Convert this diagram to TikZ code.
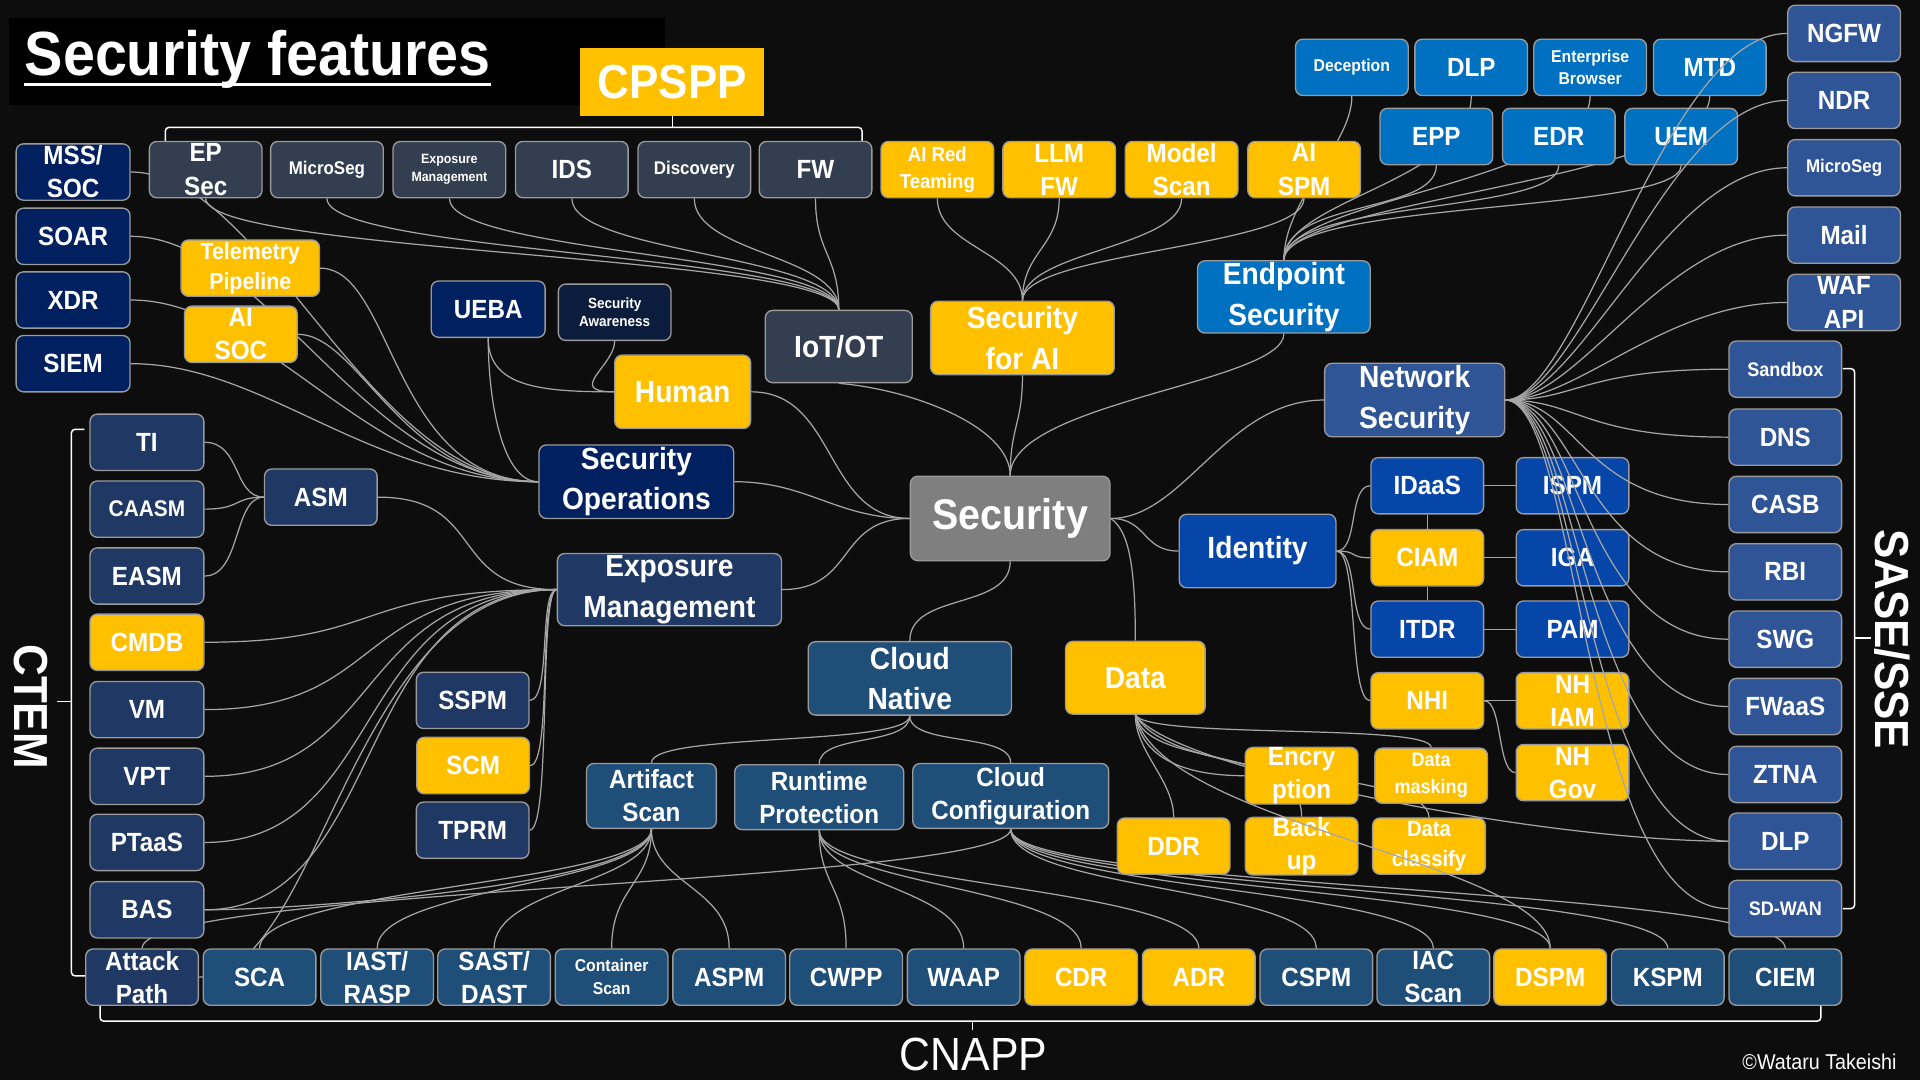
\documentclass[tikz,border=0pt]{standalone}
\usepackage{fontspec}
\setmainfont{Liberation Sans}[FakeStretch=0.92]

\definecolor{bgblack}{HTML}{0D0D0D}
\definecolor{edgegray}{HTML}{A6A6A6}
\definecolor{boxgray}{HTML}{9A9A9A}
\definecolor{slate}{HTML}{333F50}
\definecolor{aiyellow}{HTML}{FFC000}
\definecolor{epblue}{HTML}{0070C0}
\definecolor{netblue}{HTML}{2F5597}
\definecolor{idblue}{HTML}{0646A8}
\definecolor{socnavy}{HTML}{002060}
\definecolor{darknavy}{HTML}{0C1C3C}
\definecolor{ctemblue}{HTML}{1F3864}
\definecolor{cloudblue}{HTML}{1F4E79}
\definecolor{hubgray}{HTML}{7F7F7F}

\pgfdeclarelayer{background}
\pgfsetlayers{background,main}

\newcommand{\sized}[2]{\fontsize{#1}{#2}\selectfont\bfseries}

\tikzset{
  box/.style={draw=boxgray, line width=1.1pt, rounded corners=6pt, text=white, align=center,
    inner sep=0pt, minimum width=92pt, minimum height=46pt, font=\sized{21.5}{27}},
  groupbox/.style={font=\sized{25}{33}},
  cpsppbox/.style={box, fill=slate},
  aibox/.style={box, fill=aiyellow},
  epbox/.style={box, fill=epblue},
  netbox/.style={box, fill=netblue},
  idbox/.style={box, fill=idblue},
  socbox/.style={box, fill=socnavy},
  ctembox/.style={box, fill=ctemblue},
  cloudbox/.style={box, fill=cloudblue},
  link/.style={draw=edgegray, line width=1pt},
  bracket/.style={draw=white, line width=1.2pt, rounded corners=3pt},
  sidelabel/.style={text=white, inner sep=0pt, font=\sized{39}{39}}
}

\begin{document}
\begin{tikzpicture}[x=1pt,y=1pt]
\useasboundingbox (0,0) rectangle (1568,-882);
\begin{pgfonlayer}{background}
  \fill[bgblack] (0,0) rectangle (1568,-882);
\end{pgfonlayer}

% title and group labels
\fill[black] (7,-15) rectangle (543,-86);
\node[anchor=base west, text=white, inner sep=0pt, font=\sized{51}{51}] (title) at (20,-62) {Security features};
\draw[white, line width=2.2pt] ([yshift=-7pt]title.base west) -- ([yshift=-7pt]title.base east);
\node[fill=aiyellow, minimum width=150pt, minimum height=55pt, inner sep=0pt, text=white, font=\sized{39}{39}] (cpspp) at (549,-67) {CPSPP};

\node[sidelabel, rotate=-90] (ctem) at (25,-577) {CTEM};
\node[sidelabel, rotate=-90] (sase) at (1545,-522) {SASE/SSE};
\node[sidelabel, font=\fontsize{38}{38}\selectfont] (cnapp) at (795,-861) {CNAPP};
\node[anchor=east, text=white, inner sep=0pt, font=\fontsize{17.5}{17.5}\selectfont] (credit) at (1549,-867) {©Wataru Takeishi};

% brackets
\draw[bracket] (135,-115) |- (549,-104) -| (704,-115);
\draw[bracket] (549,-104) -- (cpspp.south);
\draw[bracket] (69,-350.6) -| (58.3,-797) -- (70,-797);
\draw[bracket] (58.3,-573) -- (46.7,-573);
\draw[bracket] (1505,-301) -| (1514.6,-742) -- (1505,-742);
\draw[bracket] (1514.6,-521) -- (1528,-521);
\draw[bracket] (81.7,-821) |- (1487,-834) -- (1487,-821);
\draw[bracket] (794.4,-834) -- (794.4,-841);

% CPSPP row
\node[cpsppbox] (epsec) at (168,-138.5) {EP\\Sec};
\node[cpsppbox, font=\sized{15}{19}] (microsegc) at (267,-138.5) {MicroSeg};
\node[cpsppbox, font=\sized{11}{14.5}] (exposure) at (367,-138.5) {Exposure\\Management};
\node[cpsppbox] (ids) at (467,-138.5) {IDS};
\node[cpsppbox, font=\sized{15}{19}] (discovery) at (567,-138.5) {Discovery};
\node[cpsppbox] (fw) at (666,-138.5) {FW};

% AI row
\node[aibox, font=\sized{16.5}{22}] (redteam) at (765.5,-138.5) {AI Red\\Teaming};
\node[aibox] (llmfw) at (865,-138.5) {LLM\\FW};
\node[aibox] (modelscan) at (965,-138.5) {Model\\Scan};
\node[aibox] (aispm) at (1065,-138.5) {AI\\SPM};

% endpoint
\node[epbox, font=\sized{14}{18}] (deception) at (1104,-55) {Deception};
\node[epbox] (dlpep) at (1201.5,-55) {DLP};
\node[epbox, font=\sized{14}{18}] (browser) at (1298.6,-55) {Enterprise\\Browser};
\node[epbox] (mtd) at (1396.3,-55) {MTD};
\node[epbox] (epp) at (1173,-111.5) {EPP};
\node[epbox] (edr) at (1273,-111.5) {EDR};
\node[epbox] (uem) at (1373,-111.5) {UEM};

% network
\node[netbox] (ngfw) at (1506,-27.3) {NGFW};
\node[netbox] (ndr) at (1506,-82) {NDR};
\node[netbox, font=\sized{15}{19}] (microsegn) at (1506,-137) {MicroSeg};
\node[netbox] (mail) at (1506,-192) {Mail};
\node[netbox] (waf) at (1506,-247) {WAF\\API};
\node[netbox, font=\sized{16}{20}] (sandbox) at (1458,-301.5) {Sandbox};
\node[netbox] (dns) at (1458,-357) {DNS};
\node[netbox] (casb) at (1458,-412) {CASB};
\node[netbox] (rbi) at (1458,-467) {RBI};
\node[netbox] (swg) at (1458,-522) {SWG};
\node[netbox] (fwaas) at (1458,-577) {FWaaS};
\node[netbox] (ztna) at (1458,-632.5) {ZTNA};
\node[netbox] (dlpsase) at (1458,-687) {DLP};
\node[netbox, font=\sized{16}{20}] (sdwan) at (1458,-742) {SD-WAN};

% security operations side
\node[socbox, minimum width=93pt] (msssoc) at (59.7,-140.5) {MSS/\\SOC};
\node[socbox, minimum width=93pt] (soar) at (59.7,-193) {SOAR};
\node[socbox, minimum width=93pt] (xdr) at (59.7,-245) {XDR};
\node[socbox, minimum width=93pt] (siem) at (59.7,-297) {SIEM};
\node[aibox, minimum width=113pt, font=\sized{19}{24.5}] (telemetry) at (204.4,-219) {Telemetry\\Pipeline};
\node[aibox] (aisoc) at (196.7,-273) {AI\\SOC};
\node[socbox, minimum width=93pt] (ueba) at (398.7,-252.5) {UEBA};
\node[box, fill=darknavy, font=\sized{12}{15}] (awareness) at (502,-255) {Security\\Awareness};

% main groups
\node[aibox, groupbox, minimum width=111pt, minimum height=60pt] (human) at (557.5,-320) {Human};
\node[cpsppbox, groupbox, minimum width=120pt, minimum height=59pt] (iot) at (685,-283) {IoT/OT};
\node[aibox, groupbox, minimum width=150pt, minimum height=60pt] (secai) at (835,-276) {Security\\for AI};
\node[epbox, groupbox, minimum width=141pt, minimum height=59pt] (endpoint) at (1048.5,-242.5) {Endpoint\\Security};
\node[netbox, groupbox, minimum width=147pt, minimum height=60pt] (netsec) at (1155.3,-326.7) {Network\\Security};
\node[socbox, groupbox, minimum width=159pt, minimum height=60pt] (secops) at (519.7,-393.4) {Security\\Operations};
\node[ctembox, groupbox, minimum width=183pt, minimum height=59pt] (expm) at (546.7,-481.5) {Exposure\\Management};
\node[ctembox] (asm) at (262,-406) {ASM};
\node[box, fill=hubgray, minimum width=163pt, minimum height=69pt, font=\sized{35}{35}] (security) at (825,-423.4) {Security};
\node[idbox, groupbox, minimum width=128pt, minimum height=60pt] (identity) at (1027,-450) {Identity};
\node[aibox, groupbox, minimum width=114pt, minimum height=59.5pt] (data) at (927.2,-553.5) {Data};
\node[cloudbox, groupbox, minimum width=166pt, minimum height=60pt] (cloudnative) at (743,-554) {Cloud\\Native};

% CTEM column
\node[ctembox, minimum width=93pt] (ti) at (120,-361.2) {TI};
\node[ctembox, minimum width=93pt, font=\sized{18.5}{24}] (caasm) at (120,-415.8) {CAASM};
\node[ctembox, minimum width=93pt] (easm) at (120,-470.4) {EASM};
\node[aibox, minimum width=93pt] (cmdb) at (120,-524.5) {CMDB};
\node[ctembox, minimum width=93pt] (vm) at (120,-579.5) {VM};
\node[ctembox, minimum width=93pt] (vpt) at (120,-634) {VPT};
\node[ctembox, minimum width=93pt] (ptaas) at (120,-688) {PTaaS};
\node[ctembox, minimum width=93pt] (bas) at (120,-743) {BAS};
\node[ctembox] (sspm) at (386,-572) {SSPM};
\node[aibox] (scm) at (386.4,-625.2) {SCM};
\node[ctembox] (tprm) at (386,-678) {TPRM};

% identity
\node[idbox] (idaas) at (1165.6,-396.7) {IDaaS};
\node[idbox] (ispm) at (1284.2,-396.7) {ISPM};
\node[aibox] (ciam) at (1165.6,-455.5) {CIAM};
\node[idbox] (iga) at (1284.2,-455.5) {IGA};
\node[idbox] (itdr) at (1165.6,-513.8) {ITDR};
\node[idbox] (pam) at (1284.2,-513.8) {PAM};
\node[aibox] (nhi) at (1165.6,-572.3) {NHI};
\node[aibox] (nhiam) at (1284.2,-572.3) {NH\\IAM};
\node[aibox] (nhgov) at (1284.2,-631) {NH\\Gov};

% data
\node[aibox, minimum height=45pt] (encryption) at (1063,-633.5) {Encry\\ption};
\node[aibox, minimum height=45pt, font=\sized{16}{22}] (masking) at (1168.8,-633.5) {Data\\masking};
\node[aibox] (backup) at (1063,-691) {Back\\up};
\node[aibox, font=\sized{18}{24.5}] (classify) at (1167,-691) {Data\\classify};
\node[aibox] (ddr) at (958.5,-691) {DDR};

% cloud native
\node[cloudbox, minimum width=106pt, minimum height=53pt] (artifact) at (532,-650) {Artifact\\Scan};
\node[cloudbox, minimum width=138pt, minimum height=53pt] (runtime) at (669,-651) {Runtime\\Protection};
\node[cloudbox, minimum width=160pt, minimum height=53pt] (cloudcfg) at (825.4,-650) {Cloud\\Configuration};

% CNAPP row
\node[ctembox] (attack) at (116,-798) {Attack\\Path};
\node[cloudbox] (sca) at (212,-798) {SCA};
\node[cloudbox] (iast) at (308,-798) {IAST/\\RASP};
\node[cloudbox] (sast) at (403.5,-798) {SAST/\\DAST};
\node[cloudbox, font=\sized{14}{19}] (container) at (499.5,-798) {Container\\Scan};
\node[cloudbox] (aspm) at (595.5,-798) {ASPM};
\node[cloudbox] (cwpp) at (691,-798) {CWPP};
\node[cloudbox] (waap) at (787,-798) {WAAP};
\node[aibox] (cdr) at (883,-798) {CDR};
\node[aibox] (adr) at (979,-798) {ADR};
\node[cloudbox] (cspm) at (1075,-798) {CSPM};
\node[cloudbox] (iac) at (1170.5,-798) {IAC\\Scan};
\node[aibox] (dspm) at (1266,-798) {DSPM};
\node[cloudbox] (kspm) at (1362,-798) {KSPM};
\node[cloudbox] (ciem) at (1458,-798) {CIEM};

\begin{pgfonlayer}{background}
% hub
\draw[link] (security.north) .. controls +(0,40) and +(0,-40) .. (secai.south);
\draw[link] (security.north) .. controls +(0,40) and +(60,-5) .. (iot.south);
\draw[link] (security.north) .. controls +(0,60) and +(0,-40) .. (endpoint.south);
\draw[link] (security.east) .. controls +(60,0) and +(-80,0) .. (netsec.west);
\draw[link] (security.east) .. controls +(30,0) and +(-30,0) .. (identity.west);
\draw[link] (security.east) .. controls +(15,-10) and +(0,60) .. (data.north);
\draw[link] (security.south) .. controls +(0,-40) and +(0,40) .. (cloudnative.north);
\draw[link] (security.west) .. controls +(-60,0) and +(60,0) .. (expm.east);
\draw[link] (security.west) .. controls +(-60,0) and +(60,0) .. (secops.east);
\draw[link] (security.west) .. controls +(-70,0) and +(70,0) .. (human.east);

% security for AI
\draw[link] (secai.north) .. controls +(0,40) and +(0,-40) .. (redteam.south);
\draw[link] (secai.north) .. controls +(0,40) and +(0,-40) .. (llmfw.south);
\draw[link] (secai.north) .. controls +(0,40) and +(0,-40) .. (modelscan.south);
\draw[link] (secai.north) .. controls +(0,40) and +(0,-40) .. (aispm.south);

% IoT/OT
\draw[link] (iot.north) .. controls +(0,45) and +(0,-45) .. (epsec.south);
\draw[link] (iot.north) .. controls +(0,45) and +(0,-45) .. (microsegc.south);
\draw[link] (iot.north) .. controls +(0,45) and +(0,-45) .. (exposure.south);
\draw[link] (iot.north) .. controls +(0,45) and +(0,-45) .. (ids.south);
\draw[link] (iot.north) .. controls +(0,45) and +(0,-45) .. (discovery.south);
\draw[link] (iot.north) .. controls +(0,45) and +(0,-45) .. (fw.south);

% endpoint
\draw[link] (endpoint.north) .. controls +(0,50) and +(0,-40) .. (deception.south);
\draw[link] (endpoint.north) .. controls +(0,50) and +(0,-70) .. (dlpep.south);
\draw[link] (endpoint.north) .. controls +(0,50) and +(0,-70) .. (browser.south);
\draw[link] (endpoint.north) .. controls +(0,50) and +(0,-70) .. (mtd.south);
\draw[link] (endpoint.north) .. controls +(0,50) and +(0,-40) .. (epp.south);
\draw[link] (endpoint.north) .. controls +(0,50) and +(0,-40) .. (edr.south);
\draw[link] (endpoint.north) .. controls +(0,50) and +(0,-40) .. (uem.south);

% identity
\draw[link] (identity.east) .. controls +(18,0) and +(-18,0) .. (idaas.west);
\draw[link] (identity.east) .. controls +(18,0) and +(-18,0) .. (ciam.west);
\draw[link] (identity.east) .. controls +(18,0) and +(-18,0) .. (itdr.west);
\draw[link] (identity.east) .. controls +(18,0) and +(-18,0) .. (nhi.west);
\draw[link] (idaas.east) -- (ispm.west);
\draw[link] (ciam.east) -- (iga.west);
\draw[link] (itdr.east) -- (pam.west);
\draw[link] (nhi.east) -- (nhiam.west);
\draw[link] (nhi.east) .. controls +(15,0) and +(-15,0) .. (nhgov.west);
\draw[link] (idaas.south) -- (ciam.north);
\draw[link] (ciam.south) -- (itdr.north);

% data
\draw[link] (data.south) .. controls +(0,-30) and +(0,30) .. (ddr.north);
\draw[link] (data.south) .. controls +(5,-35) and +(-50,0) .. (encryption.west);
\draw[link] (data.south) .. controls +(10,-20) and +(0,20) .. (masking.north);
\draw[link] (data.south) .. controls +(10,-45) and +(0,60) .. (backup.north);
\draw[link] (data.south) .. controls +(30,-55) and +(0,40) .. (classify.north);
\draw[link] (data.south) .. controls +(30,-45) and +(-150,0) .. (dlpsase.west);

% cloud native
\draw[link] (cloudnative.south) .. controls +(0,-25) and +(0,25) .. (artifact.north);
\draw[link] (cloudnative.south) .. controls +(0,-25) and +(0,25) .. (runtime.north);
\draw[link] (cloudnative.south) .. controls +(0,-25) and +(0,25) .. (cloudcfg.north);
\draw[link] (artifact.south) .. controls +(0,-45) and +(0,50) .. (sca.north);
\draw[link] (artifact.south) .. controls +(0,-45) and +(0,50) .. (iast.north);
\draw[link] (artifact.south) .. controls +(0,-45) and +(0,50) .. (sast.north);
\draw[link] (artifact.south) .. controls +(0,-45) and +(0,50) .. (container.north);
\draw[link] (artifact.south) .. controls +(0,-45) and +(0,50) .. (aspm.north);
\draw[link] (artifact.south) .. controls +(0,-45) and +(80,0) .. (bas.east);
\draw[link] (runtime.south) .. controls +(0,-45) and +(0,50) .. (cwpp.north);
\draw[link] (runtime.south) .. controls +(0,-45) and +(0,50) .. (waap.north);
\draw[link] (runtime.south) .. controls +(0,-45) and +(0,50) .. (cdr.north);
\draw[link] (runtime.south) .. controls +(0,-45) and +(0,50) .. (adr.north);
\draw[link] (cloudcfg.south) .. controls +(0,-50) and +(0,50) .. (cspm.north);
\draw[link] (cloudcfg.south) .. controls +(0,-50) and +(0,50) .. (iac.north);
\draw[link] (cloudcfg.south) .. controls +(0,-50) and +(0,50) .. (dspm.north);
\draw[link] (cloudcfg.south) .. controls +(0,-50) and +(0,50) .. (kspm.north);
\draw[link] (cloudcfg.south) .. controls +(0,-50) and +(0,50) .. (ciem.north);
\draw[link] (cloudcfg.south) .. controls +(0,-45) and +(0,50) .. (attack.north);

% exposure management
\draw[link] (asm.east) .. controls +(90,0) and +(-90,0) .. (expm.west);
\draw[link] (cmdb.east) .. controls +(150,0) and +(-170,0) .. (expm.west);
\draw[link] (vm.east) .. controls +(150,0) and +(-170,0) .. (expm.west);
\draw[link] (vpt.east) .. controls +(150,0) and +(-170,0) .. (expm.west);
\draw[link] (ptaas.east) .. controls +(150,0) and +(-170,0) .. (expm.west);
\draw[link] (bas.east) .. controls +(150,0) and +(-170,0) .. (expm.west);
\draw[link] (attack.east) .. controls +(100,0) and +(-170,0) .. (expm.west);
\draw[link] (sspm.east) .. controls +(18,0) and +(-15,0) .. (expm.west);
\draw[link] (scm.east) .. controls +(18,0) and +(-15,0) .. (expm.west);
\draw[link] (tprm.east) .. controls +(18,0) and +(-15,0) .. (expm.west);
\draw[link] (ti.east) .. controls +(30,0) and +(-25,0) .. (asm.west);
\draw[link] (caasm.east) .. controls +(30,0) and +(-25,0) .. (asm.west);
\draw[link] (easm.east) .. controls +(30,0) and +(-25,0) .. (asm.west);

% security operations
\draw[link] (msssoc.east) .. controls +(110,0) and +(-140,0) .. (secops.west);
\draw[link] (soar.east) .. controls +(110,0) and +(-140,0) .. (secops.west);
\draw[link] (xdr.east) .. controls +(110,0) and +(-140,0) .. (secops.west);
\draw[link] (siem.east) .. controls +(110,0) and +(-140,0) .. (secops.west);
\draw[link] (telemetry.east) .. controls +(60,0) and +(-120,0) .. (secops.west);
\draw[link] (aisoc.east) .. controls +(50,0) and +(-110,0) .. (secops.west);
\draw[link] (ueba.south) .. controls +(0,-50) and +(-30,0) .. (secops.west);

% human
\draw[link] (ueba.south) .. controls +(0,-40) and +(-60,0) .. (human.west);
\draw[link] (awareness.south) .. controls +(0,-20) and +(-40,0) .. (human.west);
\end{pgfonlayer}

% network security links run over the boxes
\draw[link] (netsec.east) .. controls +(60,0) and +(-100,0) .. (ngfw.west);
\draw[link] (netsec.east) .. controls +(60,0) and +(-100,0) .. (ndr.west);
\draw[link] (netsec.east) .. controls +(60,0) and +(-100,0) .. (microsegn.west);
\draw[link] (netsec.east) .. controls +(60,0) and +(-100,0) .. (mail.west);
\draw[link] (netsec.east) .. controls +(60,0) and +(-100,0) .. (waf.west);
\draw[link] (netsec.east) .. controls +(60,0) and +(-120,0) .. (sandbox.west);
\draw[link] (netsec.east) .. controls +(60,0) and +(-120,0) .. (dns.west);
\draw[link] (netsec.east) .. controls +(60,0) and +(-120,0) .. (casb.west);
\draw[link] (netsec.east) .. controls +(60,0) and +(-120,0) .. (rbi.west);
\draw[link] (netsec.east) .. controls +(60,0) and +(-120,0) .. (swg.west);
\draw[link] (netsec.east) .. controls +(60,0) and +(-120,0) .. (fwaas.west);
\draw[link] (netsec.east) .. controls +(60,0) and +(-120,0) .. (ztna.west);
\draw[link] (netsec.east) .. controls +(60,0) and +(-120,0) .. (dlpsase.west);
\draw[link] (netsec.east) .. controls +(60,0) and +(-120,0) .. (sdwan.west);
\draw[link] (data.south) .. controls +(20,-90) and +(0,70) .. (dspm.north);
\end{tikzpicture}
\end{document}
